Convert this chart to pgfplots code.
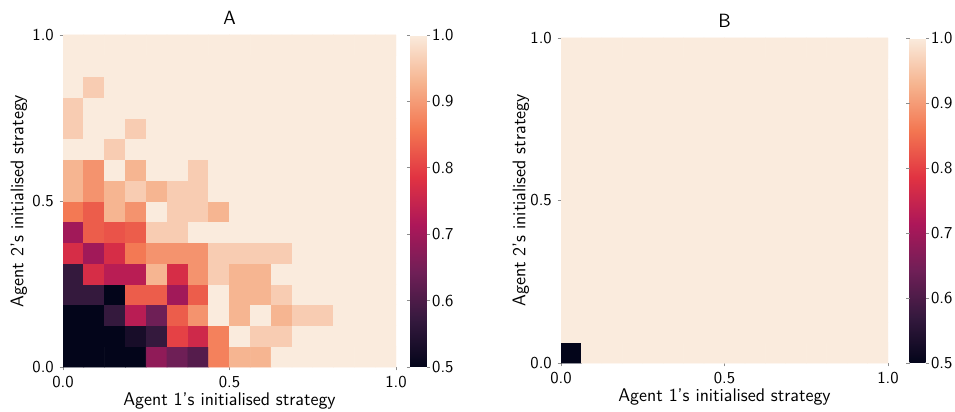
\documentclass[border=0pt]{standalone}
\usepackage{pgfplots}
\pgfplotsset{compat=1.18}
\begin{document}
\begin{tikzpicture}[font=\sffamily]
\pgfplotsset{
  heat/.style={
    scale only axis,
    xmin=0, xmax=16, ymin=0, ymax=16,
    xtick={0,8,16}, ytick={0,8,16},
    xticklabels={0.0,0.5,1.0}, yticklabels={0.0,0.5,1.0},
    axis line style={draw=none},
    tick align=outside, major tick length=2pt,
    tick style={black!45, thin},
    xtick pos=bottom, ytick pos=left,
    ticklabel style={font=\sffamily},
    label style={font=\sffamily\fontsize{11}{13}\selectfont},
    xlabel style={yshift=4pt},
    title style={font=\sffamily\fontsize{11.5}{13}\selectfont, yshift=-3pt},
    xlabel={Agent 1's initialised strategy},
    ylabel={Agent 2's initialised strategy},
    colormap={rocket}{rgb255=(3,5,26) rgb255=(53,25,62) rgb255=(112,31,87)
      rgb255=(173,23,89) rgb255=(225,51,66) rgb255=(243,118,81)
      rgb255=(246,180,143) rgb255=(250,235,221)},
    point meta min=0.5, point meta max=1,
    colorbar,
    colorbar style={
      at={(parent axis.north east)}, anchor=north west,
      width=10pt,
      ytick={0.5,0.6,0.7,0.8,0.9,1.0},
      yticklabels={0.5,0.6,0.7,0.8,0.9,1.0},
      ticklabel style={font=\sffamily},
      yticklabel style={inner xsep=1pt},
      axis line style={draw=none},
      tick align=outside, major tick length=2pt,
      tick style={black!45, thin},
    },
  },
}
\useasboundingbox (0,0) rectangle (573pt,246.6pt);

% panel A: share of runs, 16 x 16 grid of initial strategies
\begin{axis}[heat, at={(37.8pt,26.4pt)}, anchor=south west,
  width=199.8pt, height=199.2pt, title={A}, ylabel shift=-3.6pt,
  colorbar style={xshift=0pt}]
\addplot[matrix plot*, mesh/cols=16, point meta=explicit] coordinates {
(0.5,0.5)[0.5] (1.5,0.5)[0.5] (2.5,0.5)[0.5] (3.5,0.5)[0.5] (4.5,0.5)[0.68] (5.5,0.5)[0.64] (6.5,0.5)[0.61] (7.5,0.5)[0.87] (8.5,0.5)[0.93] (9.5,0.5)[0.93] (10.5,0.5)[1] (11.5,0.5)[1] (12.5,0.5)[1] (13.5,0.5)[1] (14.5,0.5)[1] (15.5,0.5)[1]
(0.5,1.5)[0.5] (1.5,1.5)[0.5] (2.5,1.5)[0.5] (3.5,1.5)[0.53] (4.5,1.5)[0.57] (5.5,1.5)[0.8] (6.5,1.5)[0.76] (7.5,1.5)[0.87] (8.5,1.5)[1] (9.5,1.5)[0.96] (10.5,1.5)[0.96] (11.5,1.5)[1] (12.5,1.5)[1] (13.5,1.5)[1] (14.5,1.5)[1] (15.5,1.5)[1]
(0.5,2.5)[0.5] (1.5,2.5)[0.5] (2.5,2.5)[0.57] (3.5,2.5)[0.73] (4.5,2.5)[0.64] (5.5,2.5)[0.83] (6.5,2.5)[0.89] (7.5,2.5)[1] (8.5,2.5)[0.93] (9.5,2.5)[1] (10.5,2.5)[0.93] (11.5,2.5)[0.96] (12.5,2.5)[0.96] (13.5,2.5)[1] (14.5,2.5)[1] (15.5,2.5)[1]
(0.5,3.5)[0.57] (1.5,3.5)[0.57] (2.5,3.5)[0.5] (3.5,3.5)[0.83] (4.5,3.5)[0.83] (5.5,3.5)[0.7] (6.5,3.5)[0.83] (7.5,3.5)[1] (8.5,3.5)[0.93] (9.5,3.5)[0.93] (10.5,3.5)[0.96] (11.5,3.5)[1] (12.5,3.5)[1] (13.5,3.5)[1] (14.5,3.5)[1] (15.5,3.5)[1]
(0.5,4.5)[0.57] (1.5,4.5)[0.77] (2.5,4.5)[0.73] (3.5,4.5)[0.73] (4.5,4.5)[0.93] (5.5,4.5)[0.77] (6.5,4.5)[0.89] (7.5,4.5)[0.96] (8.5,4.5)[0.93] (9.5,4.5)[0.93] (10.5,4.5)[1] (11.5,4.5)[1] (12.5,4.5)[1] (13.5,4.5)[1] (14.5,4.5)[1] (15.5,4.5)[1]
(0.5,5.5)[0.77] (1.5,5.5)[0.7] (2.5,5.5)[0.77] (3.5,5.5)[0.86] (4.5,5.5)[0.89] (5.5,5.5)[0.89] (6.5,5.5)[0.89] (7.5,5.5)[0.96] (8.5,5.5)[0.96] (9.5,5.5)[0.96] (10.5,5.5)[0.96] (11.5,5.5)[1] (12.5,5.5)[1] (13.5,5.5)[1] (14.5,5.5)[1] (15.5,5.5)[1]
(0.5,6.5)[0.7] (1.5,6.5)[0.83] (2.5,6.5)[0.82] (3.5,6.5)[0.83] (4.5,6.5)[0.96] (5.5,6.5)[0.96] (6.5,6.5)[1] (7.5,6.5)[1] (8.5,6.5)[1] (9.5,6.5)[1] (10.5,6.5)[1] (11.5,6.5)[1] (12.5,6.5)[1] (13.5,6.5)[1] (14.5,6.5)[1] (15.5,6.5)[1]
(0.5,7.5)[0.86] (1.5,7.5)[0.83] (2.5,7.5)[0.93] (3.5,7.5)[0.89] (4.5,7.5)[1] (5.5,7.5)[0.96] (6.5,7.5)[0.96] (7.5,7.5)[0.93] (8.5,7.5)[1] (9.5,7.5)[1] (10.5,7.5)[1] (11.5,7.5)[1] (12.5,7.5)[1] (13.5,7.5)[1] (14.5,7.5)[1] (15.5,7.5)[1]
(0.5,8.5)[0.93] (1.5,8.5)[0.89] (2.5,8.5)[0.93] (3.5,8.5)[0.96] (4.5,8.5)[0.93] (5.5,8.5)[0.96] (6.5,8.5)[0.96] (7.5,8.5)[1] (8.5,8.5)[1] (9.5,8.5)[1] (10.5,8.5)[1] (11.5,8.5)[1] (12.5,8.5)[1] (13.5,8.5)[1] (14.5,8.5)[1] (15.5,8.5)[1]
(0.5,9.5)[0.93] (1.5,9.5)[0.89] (2.5,9.5)[1] (3.5,9.5)[0.93] (4.5,9.5)[1] (5.5,9.5)[1] (6.5,9.5)[0.96] (7.5,9.5)[1] (8.5,9.5)[1] (9.5,9.5)[1] (10.5,9.5)[1] (11.5,9.5)[1] (12.5,9.5)[1] (13.5,9.5)[1] (14.5,9.5)[1] (15.5,9.5)[1]
(0.5,10.5)[1] (1.5,10.5)[1] (2.5,10.5)[0.96] (3.5,10.5)[1] (4.5,10.5)[1] (5.5,10.5)[1] (6.5,10.5)[1] (7.5,10.5)[1] (8.5,10.5)[1] (9.5,10.5)[1] (10.5,10.5)[1] (11.5,10.5)[1] (12.5,10.5)[1] (13.5,10.5)[1] (14.5,10.5)[1] (15.5,10.5)[1]
(0.5,11.5)[0.96] (1.5,11.5)[1] (2.5,11.5)[1] (3.5,11.5)[0.96] (4.5,11.5)[1] (5.5,11.5)[1] (6.5,11.5)[1] (7.5,11.5)[1] (8.5,11.5)[1] (9.5,11.5)[1] (10.5,11.5)[1] (11.5,11.5)[1] (12.5,11.5)[1] (13.5,11.5)[1] (14.5,11.5)[1] (15.5,11.5)[1]
(0.5,12.5)[0.96] (1.5,12.5)[1] (2.5,12.5)[1] (3.5,12.5)[1] (4.5,12.5)[1] (5.5,12.5)[1] (6.5,12.5)[1] (7.5,12.5)[1] (8.5,12.5)[1] (9.5,12.5)[1] (10.5,12.5)[1] (11.5,12.5)[1] (12.5,12.5)[1] (13.5,12.5)[1] (14.5,12.5)[1] (15.5,12.5)[1]
(0.5,13.5)[1] (1.5,13.5)[0.96] (2.5,13.5)[1] (3.5,13.5)[1] (4.5,13.5)[1] (5.5,13.5)[1] (6.5,13.5)[1] (7.5,13.5)[1] (8.5,13.5)[1] (9.5,13.5)[1] (10.5,13.5)[1] (11.5,13.5)[1] (12.5,13.5)[1] (13.5,13.5)[1] (14.5,13.5)[1] (15.5,13.5)[1]
(0.5,14.5)[1] (1.5,14.5)[1] (2.5,14.5)[1] (3.5,14.5)[1] (4.5,14.5)[1] (5.5,14.5)[1] (6.5,14.5)[1] (7.5,14.5)[1] (8.5,14.5)[1] (9.5,14.5)[1] (10.5,14.5)[1] (11.5,14.5)[1] (12.5,14.5)[1] (13.5,14.5)[1] (14.5,14.5)[1] (15.5,14.5)[1]
(0.5,15.5)[1] (1.5,15.5)[1] (2.5,15.5)[1] (3.5,15.5)[1] (4.5,15.5)[1] (5.5,15.5)[1] (6.5,15.5)[1] (7.5,15.5)[1] (8.5,15.5)[1] (9.5,15.5)[1] (10.5,15.5)[1] (11.5,15.5)[1] (12.5,15.5)[1] (13.5,15.5)[1] (14.5,15.5)[1] (15.5,15.5)[1]
};
\end{axis}

% panel B: only the corner cell falls short
\begin{axis}[heat, at={(336.6pt,28.8pt)}, anchor=south west,
  width=196.2pt, height=195pt, title={B}, ylabel shift=-6pt,
  colorbar style={xshift=4.5pt, width=9.6pt}]
\addplot[matrix plot*, mesh/cols=16, point meta=explicit] coordinates {
(0.5,0.5)[0.5] (1.5,0.5)[1] (2.5,0.5)[1] (3.5,0.5)[1] (4.5,0.5)[1] (5.5,0.5)[1] (6.5,0.5)[1] (7.5,0.5)[1] (8.5,0.5)[1] (9.5,0.5)[1] (10.5,0.5)[1] (11.5,0.5)[1] (12.5,0.5)[1] (13.5,0.5)[1] (14.5,0.5)[1] (15.5,0.5)[1]
(0.5,1.5)[1] (1.5,1.5)[1] (2.5,1.5)[1] (3.5,1.5)[1] (4.5,1.5)[1] (5.5,1.5)[1] (6.5,1.5)[1] (7.5,1.5)[1] (8.5,1.5)[1] (9.5,1.5)[1] (10.5,1.5)[1] (11.5,1.5)[1] (12.5,1.5)[1] (13.5,1.5)[1] (14.5,1.5)[1] (15.5,1.5)[1]
(0.5,2.5)[1] (1.5,2.5)[1] (2.5,2.5)[1] (3.5,2.5)[1] (4.5,2.5)[1] (5.5,2.5)[1] (6.5,2.5)[1] (7.5,2.5)[1] (8.5,2.5)[1] (9.5,2.5)[1] (10.5,2.5)[1] (11.5,2.5)[1] (12.5,2.5)[1] (13.5,2.5)[1] (14.5,2.5)[1] (15.5,2.5)[1]
(0.5,3.5)[1] (1.5,3.5)[1] (2.5,3.5)[1] (3.5,3.5)[1] (4.5,3.5)[1] (5.5,3.5)[1] (6.5,3.5)[1] (7.5,3.5)[1] (8.5,3.5)[1] (9.5,3.5)[1] (10.5,3.5)[1] (11.5,3.5)[1] (12.5,3.5)[1] (13.5,3.5)[1] (14.5,3.5)[1] (15.5,3.5)[1]
(0.5,4.5)[1] (1.5,4.5)[1] (2.5,4.5)[1] (3.5,4.5)[1] (4.5,4.5)[1] (5.5,4.5)[1] (6.5,4.5)[1] (7.5,4.5)[1] (8.5,4.5)[1] (9.5,4.5)[1] (10.5,4.5)[1] (11.5,4.5)[1] (12.5,4.5)[1] (13.5,4.5)[1] (14.5,4.5)[1] (15.5,4.5)[1]
(0.5,5.5)[1] (1.5,5.5)[1] (2.5,5.5)[1] (3.5,5.5)[1] (4.5,5.5)[1] (5.5,5.5)[1] (6.5,5.5)[1] (7.5,5.5)[1] (8.5,5.5)[1] (9.5,5.5)[1] (10.5,5.5)[1] (11.5,5.5)[1] (12.5,5.5)[1] (13.5,5.5)[1] (14.5,5.5)[1] (15.5,5.5)[1]
(0.5,6.5)[1] (1.5,6.5)[1] (2.5,6.5)[1] (3.5,6.5)[1] (4.5,6.5)[1] (5.5,6.5)[1] (6.5,6.5)[1] (7.5,6.5)[1] (8.5,6.5)[1] (9.5,6.5)[1] (10.5,6.5)[1] (11.5,6.5)[1] (12.5,6.5)[1] (13.5,6.5)[1] (14.5,6.5)[1] (15.5,6.5)[1]
(0.5,7.5)[1] (1.5,7.5)[1] (2.5,7.5)[1] (3.5,7.5)[1] (4.5,7.5)[1] (5.5,7.5)[1] (6.5,7.5)[1] (7.5,7.5)[1] (8.5,7.5)[1] (9.5,7.5)[1] (10.5,7.5)[1] (11.5,7.5)[1] (12.5,7.5)[1] (13.5,7.5)[1] (14.5,7.5)[1] (15.5,7.5)[1]
(0.5,8.5)[1] (1.5,8.5)[1] (2.5,8.5)[1] (3.5,8.5)[1] (4.5,8.5)[1] (5.5,8.5)[1] (6.5,8.5)[1] (7.5,8.5)[1] (8.5,8.5)[1] (9.5,8.5)[1] (10.5,8.5)[1] (11.5,8.5)[1] (12.5,8.5)[1] (13.5,8.5)[1] (14.5,8.5)[1] (15.5,8.5)[1]
(0.5,9.5)[1] (1.5,9.5)[1] (2.5,9.5)[1] (3.5,9.5)[1] (4.5,9.5)[1] (5.5,9.5)[1] (6.5,9.5)[1] (7.5,9.5)[1] (8.5,9.5)[1] (9.5,9.5)[1] (10.5,9.5)[1] (11.5,9.5)[1] (12.5,9.5)[1] (13.5,9.5)[1] (14.5,9.5)[1] (15.5,9.5)[1]
(0.5,10.5)[1] (1.5,10.5)[1] (2.5,10.5)[1] (3.5,10.5)[1] (4.5,10.5)[1] (5.5,10.5)[1] (6.5,10.5)[1] (7.5,10.5)[1] (8.5,10.5)[1] (9.5,10.5)[1] (10.5,10.5)[1] (11.5,10.5)[1] (12.5,10.5)[1] (13.5,10.5)[1] (14.5,10.5)[1] (15.5,10.5)[1]
(0.5,11.5)[1] (1.5,11.5)[1] (2.5,11.5)[1] (3.5,11.5)[1] (4.5,11.5)[1] (5.5,11.5)[1] (6.5,11.5)[1] (7.5,11.5)[1] (8.5,11.5)[1] (9.5,11.5)[1] (10.5,11.5)[1] (11.5,11.5)[1] (12.5,11.5)[1] (13.5,11.5)[1] (14.5,11.5)[1] (15.5,11.5)[1]
(0.5,12.5)[1] (1.5,12.5)[1] (2.5,12.5)[1] (3.5,12.5)[1] (4.5,12.5)[1] (5.5,12.5)[1] (6.5,12.5)[1] (7.5,12.5)[1] (8.5,12.5)[1] (9.5,12.5)[1] (10.5,12.5)[1] (11.5,12.5)[1] (12.5,12.5)[1] (13.5,12.5)[1] (14.5,12.5)[1] (15.5,12.5)[1]
(0.5,13.5)[1] (1.5,13.5)[1] (2.5,13.5)[1] (3.5,13.5)[1] (4.5,13.5)[1] (5.5,13.5)[1] (6.5,13.5)[1] (7.5,13.5)[1] (8.5,13.5)[1] (9.5,13.5)[1] (10.5,13.5)[1] (11.5,13.5)[1] (12.5,13.5)[1] (13.5,13.5)[1] (14.5,13.5)[1] (15.5,13.5)[1]
(0.5,14.5)[1] (1.5,14.5)[1] (2.5,14.5)[1] (3.5,14.5)[1] (4.5,14.5)[1] (5.5,14.5)[1] (6.5,14.5)[1] (7.5,14.5)[1] (8.5,14.5)[1] (9.5,14.5)[1] (10.5,14.5)[1] (11.5,14.5)[1] (12.5,14.5)[1] (13.5,14.5)[1] (14.5,14.5)[1] (15.5,14.5)[1]
(0.5,15.5)[1] (1.5,15.5)[1] (2.5,15.5)[1] (3.5,15.5)[1] (4.5,15.5)[1] (5.5,15.5)[1] (6.5,15.5)[1] (7.5,15.5)[1] (8.5,15.5)[1] (9.5,15.5)[1] (10.5,15.5)[1] (11.5,15.5)[1] (12.5,15.5)[1] (13.5,15.5)[1] (14.5,15.5)[1] (15.5,15.5)[1]
};
\end{axis}
\end{tikzpicture}
\end{document}
